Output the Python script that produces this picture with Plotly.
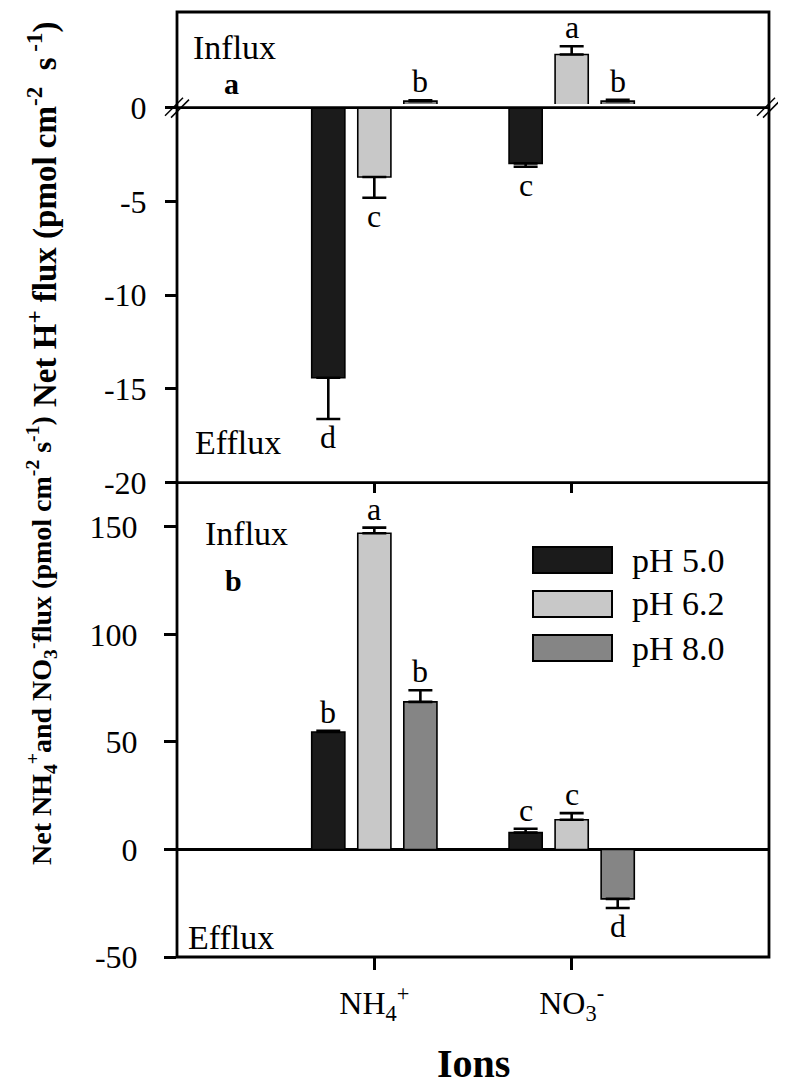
import plotly.graph_objects as go

# ---------------- data ----------------
ions = ["NH4+", "NO3-"]
ion_ticktext = ["NH<sub>4</sub><sup>+</sup>", "NO<sub>3</sub><sup>-</sup>"]
treatments = ["pH 5.0", "pH 6.2", "pH 8.0"]
colors = ["#1b1b1b", "#c8c8c8", "#858585"]

# panel a: net H+ flux (pmol cm-2 s-1)
h_ph50 = [-14.4, -2.97]
h_ph62 = [-3.7, 2.66]
h_ph80 = [0.2, 0.2]
h_err_ph50 = [2.2, 0.18]
h_err_ph62 = [1.1, 0.44]
h_err_ph80 = [0.05, 0.07]
h_let_ph50 = ["d", "c"]
h_let_ph62 = ["c", "a"]
h_let_ph80 = ["b", "b"]

# panel b: net NH4+ and NO3- flux (pmol cm-2 s-1)
n_ph50 = [54.6, 7.8]
n_ph62 = [147.0, 13.8]
n_ph80 = [68.6, -23.0]
n_err_ph50 = [0.5, 1.8]
n_err_ph62 = [2.6, 3.1]
n_err_ph80 = [5.4, 4.2]
n_let_ph50 = ["b", "c"]
n_let_ph62 = ["a", "c"]
n_let_ph80 = ["b", "d"]

a_ticks = [0, -5, -10, -15, -20]
b_ticks = [-50, 0, 50, 100, 150]

h_vals = [h_ph50, h_ph62, h_ph80]
h_errs = [h_err_ph50, h_err_ph62, h_err_ph80]
h_lets = [h_let_ph50, h_let_ph62, h_let_ph80]
n_vals = [n_ph50, n_ph62, n_ph80]
n_errs = [n_err_ph50, n_err_ph62, n_err_ph80]
n_lets = [n_let_ph50, n_let_ph62, n_let_ph80]

# ---------------- layout geometry (page pixels) ----------------
BODY = 8  # default page body margin
W, H = 786, 1086
L, R, T, B = 177, 17, 12, 129
PW, PH = W - L - R, H - T - B


def px(xp):
    return (xp - L) / PW


def py(yp):
    return (H - B - yp) / PH


FONT = "Liberation Serif"
BARGAP = 0.30
NTR = len(treatments)
slot = (1 - BARGAP) / NTR

fig = go.Figure()


def add_bars(vals, errs, xa, ya):
    for i, (v, e) in enumerate(zip(vals, errs)):
        plus = [ee if vv >= 0 else 0 for vv, ee in zip(v, e)]
        minus = [ee if vv < 0 else 0 for vv, ee in zip(v, e)]
        fig.add_trace(go.Bar(
            x=ions, y=v, name=treatments[i], xaxis=xa, yaxis=ya,
            marker=dict(color=colors[i], line=dict(color="black", width=1.6)),
            error_y=dict(type="data", symmetric=False, array=plus, arrayminus=minus,
                         color="black", thickness=2.6, width=12),
            showlegend=False, hoverinfo="skip"))


# panel a drawn on two stacked axes (broken axis): upper part and lower part
add_bars(h_vals, h_errs, "x", "y")
add_bars(h_vals, h_errs, "x2", "y2")
add_bars(n_vals, n_errs, "x3", "y3")

annotations = []


def add_letters(vals, errs, lets, xa, ya, pos_only=None):
    for i in range(NTR):
        off = (i - (NTR - 1) / 2) * slot
        for j in range(len(ions)):
            v, e, t = vals[i][j], errs[i][j], lets[i][j]
            if pos_only is True and v < 0:
                continue
            if pos_only is False and v >= 0:
                continue
            tip = v + e if v >= 0 else v - e
            annotations.append(dict(
                x=j + off, y=tip, xref=xa, yref=ya, text=t, showarrow=False,
                xanchor="center", yanchor="bottom" if v >= 0 else "top",
                yshift=-1 if v >= 0 else 2,
                font=dict(family=FONT, size=32, color="black")))


add_letters(h_vals, h_errs, h_lets, "x", "y", pos_only=True)
add_letters(h_vals, h_errs, h_lets, "x2", "y2", pos_only=False)
add_letters(n_vals, n_errs, n_lets, "x3", "y3")

# domains
top_a = [py(104), 1.0]
bot_a = [py(482.7), py(107.7)]
pan_b = [0.0, py(482.7)]
scale_a = (482.7 - 107.7) / 20.0  # px per unit
top_range = [0.05, (104 - T) / scale_a]
b_top = 150 + (526.7 - 482.7) / ((849 - 526.7) / 150)

tickfont = dict(family=FONT, size=32, color="black")
common_x = dict(type="category", categoryorder="array", categoryarray=ions,
                range=[-1, 2], showgrid=False, zeroline=False, automargin=False)

fig.update_layout(
    width=W - BODY, height=H - BODY,
    margin=dict(l=L - BODY, r=R, t=T - BODY, b=B, autoexpand=False),
    paper_bgcolor="white", plot_bgcolor="white",
    barmode="group", bargap=BARGAP, bargroupgap=0.28,
    font=dict(family=FONT, color="black"),
    xaxis=dict(common_x, domain=[0, 1], anchor="y", showticklabels=False, ticks="",
               showline=False),
    yaxis=dict(domain=top_a, anchor="x", range=top_range, showticklabels=False,
               ticks="", showgrid=False, zeroline=False, showline=False,
               automargin=False),
    xaxis2=dict(common_x, domain=[0, 1], anchor="y2", showticklabels=False,
                ticks="outside", ticklen=9, tickwidth=2.5, tickcolor="black",
                showline=False),
    yaxis2=dict(domain=bot_a, anchor="x2", range=[-20, 0], tickvals=a_ticks,
                ticktext=[str(t) for t in a_ticks], ticks="outside", ticklen=11,
                tickwidth=2.5, tickcolor="black", tickfont=tickfont,
                ticklabelstandoff=12, showgrid=False, zeroline=False, showline=False,
                automargin=False),
    xaxis3=dict(common_x, domain=[0, 1], anchor="y3", tickvals=ions,
                ticktext=ion_ticktext, ticks="outside", ticklen=12, tickwidth=2.5,
                tickcolor="black", tickfont=tickfont, ticklabelstandoff=6,
                showline=False),
    yaxis3=dict(domain=pan_b, anchor="x3", range=[-50, b_top], tickvals=b_ticks,
                ticktext=[str(t) for t in b_ticks], ticks="outside", ticklen=12,
                tickwidth=2.5, tickcolor="black", tickfont=tickfont,
                ticklabelstandoff=20, showgrid=False, zeroline=True,
                zerolinecolor="black", zerolinewidth=2.5, showline=False,
                automargin=False),
)

shapes = []
# outer frame and panel separators
shapes.append(dict(type="rect", xref="paper", yref="paper", x0=0, x1=1, y0=0, y1=1,
                   line=dict(color="black", width=2.8)))
for yy in (107.7, 482.7):
    shapes.append(dict(type="line", xref="paper", yref="paper", x0=0, x1=1,
                       y0=py(yy), y1=py(yy), line=dict(color="black", width=2.8)))
# break marks //
for cx in (L, W - R):
    for d in (-3, 3):
        shapes.append(dict(type="line", xref="paper", yref="paper",
                           x0=px(cx - 9 + d), x1=px(cx + 9 + d),
                           y0=py(107.7 + 9 + d * 0.3), y1=py(107.7 - 9 + d * 0.3),
                           line=dict(color="black", width=1.5)))
# legend swatches
leg_rows = [560, 604, 648]
for i, yc in enumerate(leg_rows):
    shapes.append(dict(type="rect", xref="paper", yref="paper",
                       x0=px(533), x1=px(612), y0=py(yc + 13), y1=py(yc - 13),
                       fillcolor=colors[i], line=dict(color="black", width=2)))
    annotations.append(dict(x=px(630), y=py(yc), xref="paper", yref="paper",
                            text=treatments[i], showarrow=False, xanchor="left",
                            yanchor="middle", font=dict(family=FONT, size=34)))

txt = dict(family=FONT, size=34, color="black")
btxt = dict(family=FONT, size=30, color="black")
panel_texts = [
    dict(x=px(191), y=py(47), text="Influx", font=txt),
    dict(x=px(231), y=py(83), text="<b>a</b>", font=btxt),
    dict(x=px(193), y=py(442), text="Efflux", font=txt),
    dict(x=px(203), y=py(533), text="Influx", font=txt),
    dict(x=px(233), y=py(580), text="<b>b</b>", font=btxt),
    dict(x=px(186), y=py(937), text="Efflux", font=txt),
]
for a in panel_texts:
    a.update(xref="paper", yref="paper", showarrow=False,
             xanchor="center" if a["text"].startswith("<b>") else "left",
             yanchor="middle")
annotations += panel_texts

# axis titles
annotations.append(dict(x=px(473), y=py(1063), xref="paper", yref="paper",
                        xanchor="center", yanchor="middle",
                        text="<b>Ions</b>", showarrow=False,
                        font=dict(family=FONT, size=40, color="black")))
# y titles (panel b part at bottom, panel a part at top, forming one line)
annotations.append(dict(
    x=px(42), y=py(641), xref="paper", yref="paper", textangle=-90, showarrow=False,
    xanchor="center", yanchor="middle",
    text=("<b>Net NH<sub>4</sub><sup>+</sup>and NO<sub>3</sub><sup>-</sup>flux "
          "(pmol cm<sup>-2</sup> s<sup>-1</sup>)</b>"),
    font=dict(family=FONT, size=28, color="black")))
annotations.append(dict(
    x=px(42), y=py(214), xref="paper", yref="paper", textangle=-90, showarrow=False,
    xanchor="center", yanchor="middle",
    text=("<b>Net H<sup>+</sup> flux (pmol cm<sup>-2</sup>  s<sup> -1</sup>)</b>"),
    font=dict(family=FONT, size=33, color="black")))

fig.update_layout(shapes=shapes, annotations=annotations)
fig.write_html("out.html")
